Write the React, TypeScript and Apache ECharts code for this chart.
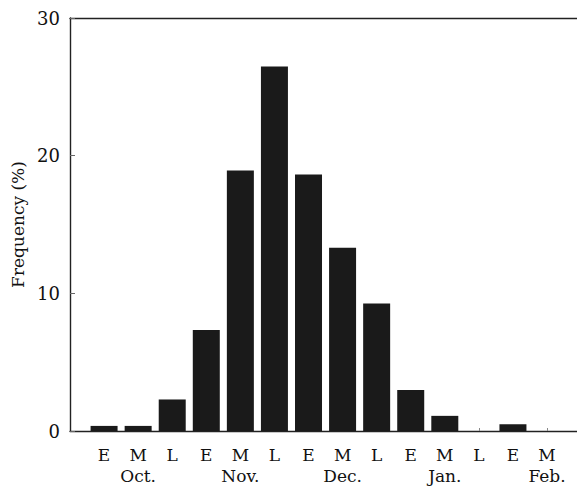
import React, { useEffect, useRef } from "react";
import * as echarts from "echarts";

const periods = ["E", "M", "L", "E", "M", "L", "E", "M", "L", "E", "M", "L", "E", "M"];
const months = ["", "Oct.", "", "", "Nov.", "", "", "Dec.", "", "", "Jan.", "", "", "Feb."];
const frequency = [0.37, 0.37, 2.29, 7.33, 18.92, 26.48, 18.63, 13.32, 9.27, 2.97, 1.1, 0, 0.49, 0];
const yTicks = [0, 10, 20, 30];

const FONT = "'DejaVu Serif', 'Liberation Serif', serif";
const INK = "#111111";
const BAR = "#1a1a1a";

export default function App() {
  const ref = useRef<HTMLDivElement>(null);
  useEffect(() => {
    if (!ref.current) return;
    const chart = echarts.init(ref.current, null, { renderer: "svg" });
    const positions = periods.map((_, i) => i + 1);
    const xMax = 14.88;
    chart.setOption({
      animation: false,
      backgroundColor: "#ffffff",
      grid: { left: 70, right: 0, top: 18, bottom: 56, outerBoundsMode: "none", containLabel: false },
      xAxis: [
        {
          type: "value",
          min: 0,
          max: xMax,
          position: "bottom",
          axisLine: { show: true, lineStyle: { color: "#222", width: 1.4 } },
          axisTick: {
            show: true,
            inside: true,
            length: 3,
            customValues: positions,
            lineStyle: { color: "#888", width: 1 },
          },
          splitLine: { show: false },
          axisLabel: {
            customValues: positions,
            margin: 13,
            fontFamily: FONT,
            fontSize: 17,
            color: INK,
            lineHeight: 21,
            formatter: (v: number) => {
              const i = Math.round(v) - 1;
              if (i < 0 || i >= periods.length) return "";
              return months[i] ? periods[i] + "\n" + months[i] : periods[i];
            },
          },
        },
        {
          type: "value",
          min: 0,
          max: xMax,
          position: "top",
          axisLine: { show: true, lineStyle: { color: "#222", width: 1.4 } },
          axisTick: { show: false },
          axisLabel: { show: false },
          splitLine: { show: false },
        },
      ],
      yAxis: {
        type: "value",
        min: yTicks[0],
        max: yTicks[yTicks.length - 1],
        interval: 10,
        name: "Frequency (%)",
        nameLocation: "middle",
        nameGap: 40,
        nameTextStyle: { fontFamily: FONT, fontSize: 17, color: INK },
        axisLine: { show: true, lineStyle: { color: "#222", width: 1.4 } },
        axisTick: { show: true, inside: true, length: 5, lineStyle: { color: "#666", width: 1 } },
        splitLine: { show: false },
        axisLabel: { margin: 10, fontFamily: FONT, fontSize: 18, color: INK },
      },
      series: [
        {
          type: "bar",
          xAxisIndex: 0,
          barWidth: 27,
          itemStyle: { color: BAR },
          data: frequency.map((v, i) => [positions[i], v]),
        },
      ],
    });
    return () => chart.dispose();
  }, []);
  return (
    <div
      ref={ref}
      style={{ position: "fixed", left: 0, top: 0, width: 577, height: 487, background: "#fff" }}
    />
  );
}
